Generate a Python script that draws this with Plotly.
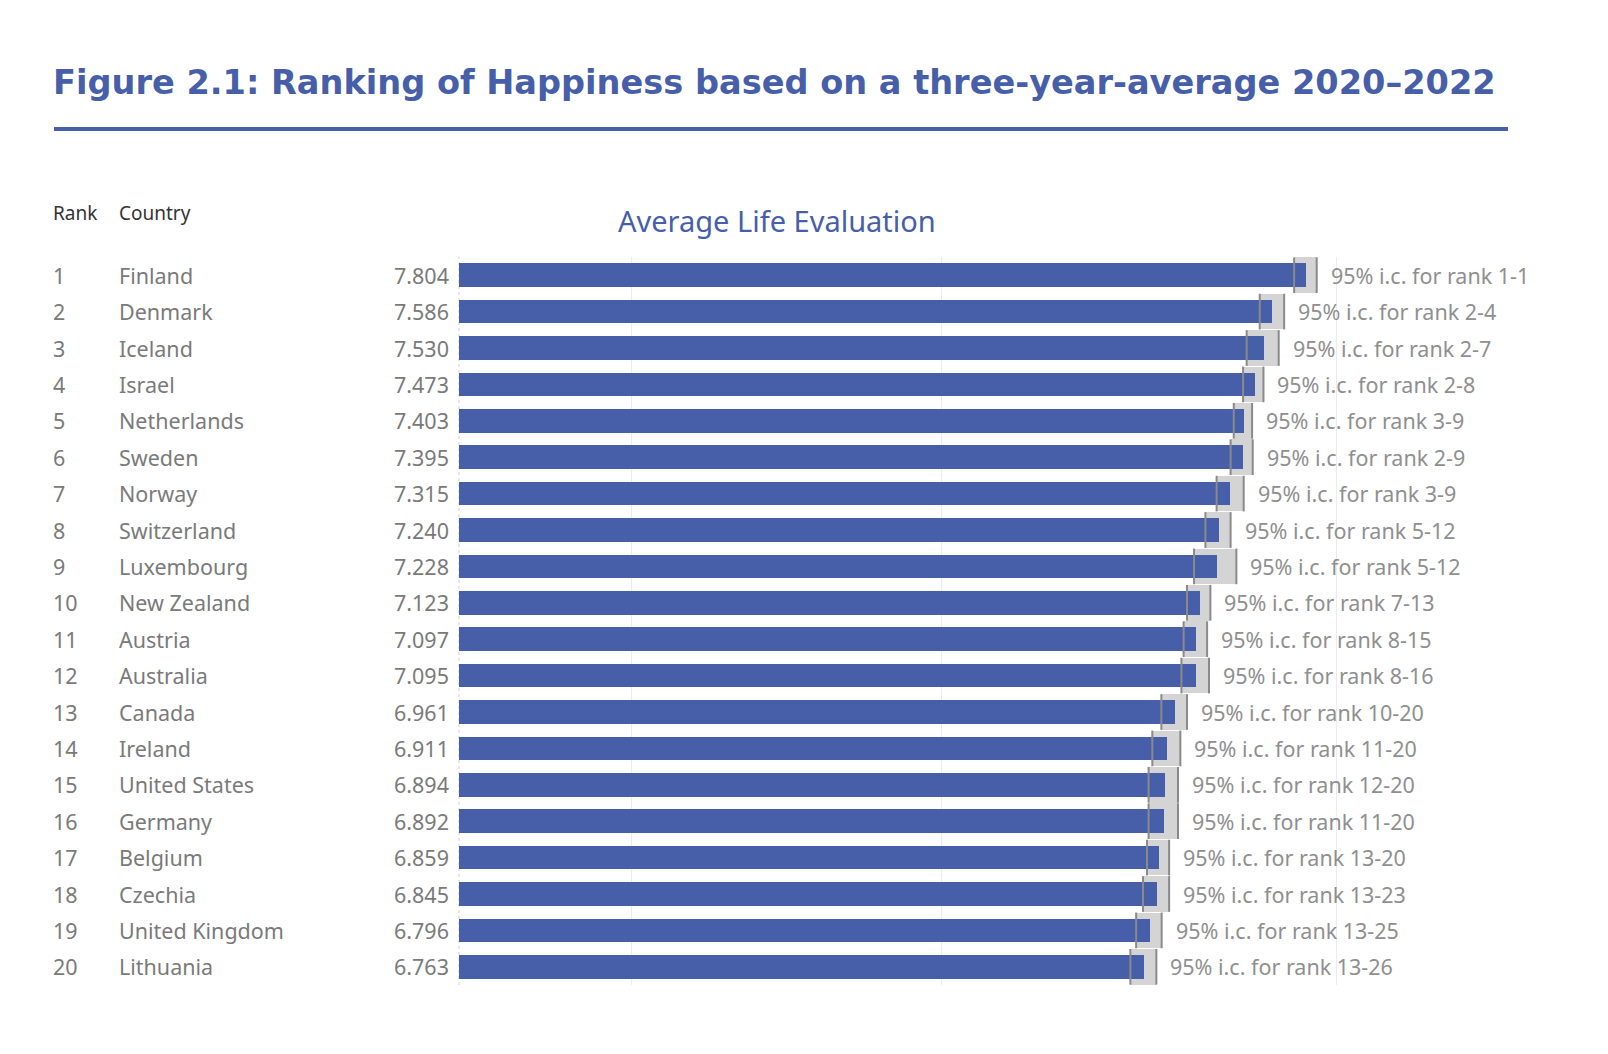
import plotly.graph_objects as go

# ---------------- data ----------------
ranks = list(range(1, 21))
countries = ["Finland", "Denmark", "Iceland", "Israel", "Netherlands", "Sweden",
             "Norway", "Switzerland", "Luxembourg", "New Zealand", "Austria",
             "Australia", "Canada", "Ireland", "United States", "Germany",
             "Belgium", "Czechia", "United Kingdom", "Lithuania"]
scores = [7.804, 7.586, 7.530, 7.473, 7.403, 7.395, 7.315, 7.240, 7.228, 7.123,
          7.097, 7.095, 6.961, 6.911, 6.894, 6.892, 6.859, 6.845, 6.796, 6.763]
ci_low = [7.725, 7.504, 7.420, 7.397, 7.337, 7.317, 7.227, 7.155, 7.082, 7.037,
          7.015, 7.001, 6.872, 6.814, 6.790, 6.790, 6.780, 6.754, 6.710, 6.673]
ci_high = [7.870, 7.661, 7.626, 7.528, 7.455, 7.459, 7.401, 7.317, 7.354, 7.187,
           7.166, 7.178, 7.037, 6.994, 6.979, 6.979, 6.922, 6.922, 6.874, 6.840]
rank_ranges = ["1-1", "2-4", "2-7", "2-8", "3-9", "2-9", "3-9", "5-12", "5-12",
               "7-13", "8-15", "8-16", "10-20", "11-20", "12-20", "11-20",
               "13-20", "13-23", "13-25", "13-26"]
grid_values = [3.47, 5.46, 8.0]
x_range = [2.36, 9.69]

# ---------------- styling ----------------
PAGE_OFF = 8  # default body margin of the html page
W, H = 1608 - PAGE_OFF, 1054 - PAGE_OFF
L, T = 459 - PAGE_OFF, 257 - PAGE_OFF
PW, PH = 1141, 728
R, B = W - L - PW, H - T - PH
BLUE = "#475ea9"
GREY_TXT = "#7a7a7a"
CI_FILL = "#d4d4d4"
CI_LINE = "#8a8a8a"
FONT = "Noto Sans"


def px_x(px):
    return (px - PAGE_OFF - L) / PW


def px_y(py):
    return (T + PH - (py - PAGE_OFF)) / PH


idx = list(range(len(countries)))

fig = go.Figure()

# CI boxes (behind)
fig.add_trace(go.Bar(
    x=[h - l for l, h in zip(ci_low, ci_high)], base=ci_low, y=idx,
    orientation="h", width=0.98, marker=dict(color=CI_FILL, line=dict(width=0)),
    hoverinfo="skip", showlegend=False))

# score bars
fig.add_trace(go.Bar(
    x=scores, base=0, y=idx, orientation="h", width=0.65,
    marker=dict(color=BLUE, line=dict(width=0)),
    showlegend=False))

# CI whisker lines (on top)
lx, ly = [], []
for i, (lo, hi) in enumerate(zip(ci_low, ci_high)):
    for v in (lo, hi):
        lx += [v, v, None]
        ly += [i - 0.49, i + 0.49, None]
fig.add_trace(go.Scatter(x=lx, y=ly, mode="lines",
                         line=dict(color=CI_LINE, width=2),
                         hoverinfo="skip", showlegend=False))

ann = []
for i in idx:
    ann.append(dict(x=ci_high[i], y=i, xref="x", yref="y", xanchor="left",
                    yanchor="middle", xshift=12, showarrow=False,
                    text=f"95% i.c. for rank {rank_ranges[i]}",
                    font=dict(family=FONT, size=21.5, color="#8f8f8f")))
    ann.append(dict(x=px_x(51), y=i, xref="paper", yref="y", xanchor="left",
                    yanchor="middle", showarrow=False, text=str(ranks[i]),
                    font=dict(family=FONT, size=21.5, color=GREY_TXT)))
    ann.append(dict(x=px_x(117), y=i, xref="paper", yref="y", xanchor="left",
                    yanchor="middle", showarrow=False, text=countries[i],
                    font=dict(family=FONT, size=21.5, color=GREY_TXT)))
    ann.append(dict(x=px_x(451), y=i, xref="paper", yref="y", xanchor="right",
                    yanchor="middle", showarrow=False, text=f"{scores[i]:.3f}",
                    font=dict(family=FONT, size=21.5, color=GREY_TXT)))

# headers
ann.append(dict(x=px_x(51), y=px_y(213), xref="paper", yref="paper",
                xanchor="left", yanchor="middle", showarrow=False, text="Rank",
                font=dict(family=FONT, size=19, color="#333333")))
ann.append(dict(x=px_x(117), y=px_y(213), xref="paper", yref="paper",
                xanchor="left", yanchor="middle", showarrow=False, text="Country",
                font=dict(family=FONT, size=19, color="#333333")))
ann.append(dict(x=px_x(777), y=px_y(221), xref="paper", yref="paper",
                xanchor="center", yanchor="middle", showarrow=False,
                text="Average Life Evaluation",
                font=dict(family=FONT, size=29, color=BLUE)))
ann.append(dict(x=px_x(51), y=px_y(83), xref="paper", yref="paper",
                xanchor="left", yanchor="middle", showarrow=False,
                text="<b>Figure 2.1: Ranking of Happiness based on a three-year-average 2020–2022</b>",
                font=dict(family="DejaVu Sans", size=33.6, color=BLUE)))

shapes = [
    dict(type="line", xref="paper", yref="paper", x0=px_x(54), x1=px_x(1508),
         y0=px_y(129), y1=px_y(129), line=dict(color=BLUE, width=4)),
    dict(type="line", xref="paper", yref="paper", x0=0, x1=0, y0=0, y1=1,
         line=dict(color="#cfcfcf", width=1, dash="dot"), layer="below"),
]

fig.update_layout(
    width=W, height=H, autosize=False,
    margin=dict(l=L, r=R, t=T, b=B),
    paper_bgcolor="white", plot_bgcolor="white",
    barmode="overlay", bargap=0,
    annotations=ann, shapes=shapes,
    xaxis=dict(range=x_range, tickvals=grid_values, showticklabels=False,
               showgrid=True, gridcolor="#ececec", gridwidth=1,
               zeroline=False, showline=False, ticks=""),
    yaxis=dict(range=[len(countries) - 0.5, -0.5], showticklabels=False,
               showgrid=False, zeroline=False, showline=False, ticks=""),
    font=dict(family=FONT),
)

fig.write_html("out.html")
